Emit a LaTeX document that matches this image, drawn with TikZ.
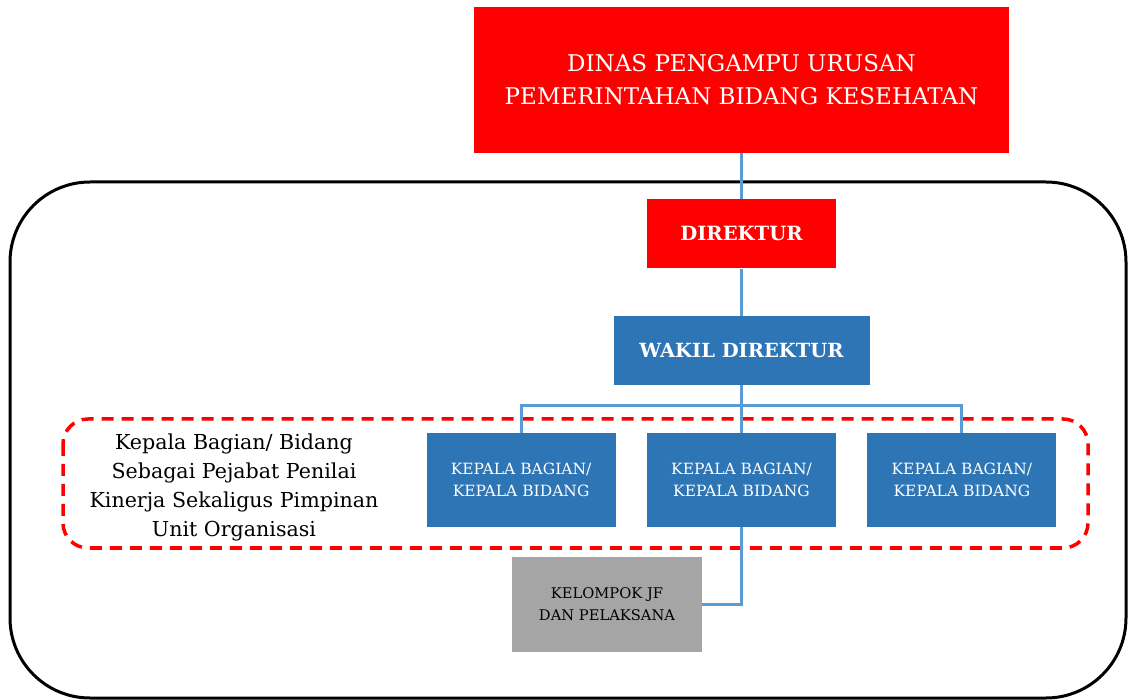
\documentclass[tikz,border=0pt]{standalone}
\usepackage{fontspec}
\setmainfont{DejaVu Serif}
\usepackage{tikz}
\usetikzlibrary{positioning,calc}
\definecolor{topred}{RGB}{255,0,0}
\definecolor{unitblue}{RGB}{46,117,182}
\definecolor{linkblue}{RGB}{91,155,213}
\definecolor{jfgrey}{RGB}{165,165,165}
\tikzset{
  redbox/.style={fill=topred,text=white,align=center,inner sep=2pt},
  bluebox/.style={fill=unitblue,text=white,align=center,inner sep=2pt},
  kabid/.style={bluebox,minimum width=189pt,minimum height=94pt,
                font=\fontsize{15.5}{22}\selectfont},
  greybox/.style={fill=jfgrey,text=black,align=center,inner sep=2pt,
                  minimum width=190pt,minimum height=95pt,
                  font=\fontsize{14.7}{22}\selectfont},
  link/.style={draw=linkblue,line width=3pt},
  frame/.style={draw=black,line width=3pt,rounded corners=80pt},
  dashframe/.style={draw=topred,line width=3.5pt,rounded corners=25pt,
                    dash pattern=on 12pt off 8pt},
}

\begin{document}
\begin{tikzpicture}[x=1pt,y=1pt]
  \useasboundingbox (0,0) rectangle (1128,-700);

  \draw[frame] (10,-182) rectangle (1126,-698);

  \node[redbox,minimum width=535pt,minimum height=146pt,
        font=\fontsize{23}{33}\selectfont] (dinas) at (741.5,-80)
    {DINAS PENGAMPU URUSAN\\PEMERINTAHAN BIDANG KESEHATAN};

  \node[redbox,below=46pt of dinas,minimum width=189pt,minimum height=69pt,
        font=\fontsize{19.6}{24}\selectfont\bfseries] (dir) {DIREKTUR};

  \node[bluebox,below=47pt of dir,minimum width=256pt,minimum height=69pt,
        font=\fontsize{19.5}{24}\selectfont\bfseries] (wadir) {WAKIL DIREKTUR};

  \draw[dashframe] (63,-419) rectangle (1088,-548);

  \node[kabid,below=48pt of wadir] (kabid2) {KEPALA BAGIAN/\\KEPALA BIDANG};
  \node[kabid,left=31pt of kabid2] (kabid1) {KEPALA BAGIAN/\\KEPALA BIDANG};
  \node[kabid,right=31pt of kabid2] (kabid3) {KEPALA BAGIAN/\\KEPALA BIDANG};

  \node[greybox] (jf) at (607,-604.5) {KELOMPOK JF\\DAN PELAKSANA};

  \node[align=center,font=\fontsize{20.6}{29}\selectfont] (ket) at (234,-487)
    {Kepala Bagian/ Bidang\\Sebagai Pejabat Penilai\\
     Kinerja Sekaligus Pimpinan\\Unit Organisasi};

  \draw[link] (dinas) -- (dir);
  \draw[link] (dir) -- (wadir);
  \draw[link] (wadir.south) -- ++(0,-21) coordinate (bus);
  \draw[link] (kabid1.north) |- (bus) -| (kabid3.north);
  \draw[link] (bus) -- (kabid2.north);
  \draw[link] (kabid2.south) |- (jf.east);
\end{tikzpicture}
\end{document}
